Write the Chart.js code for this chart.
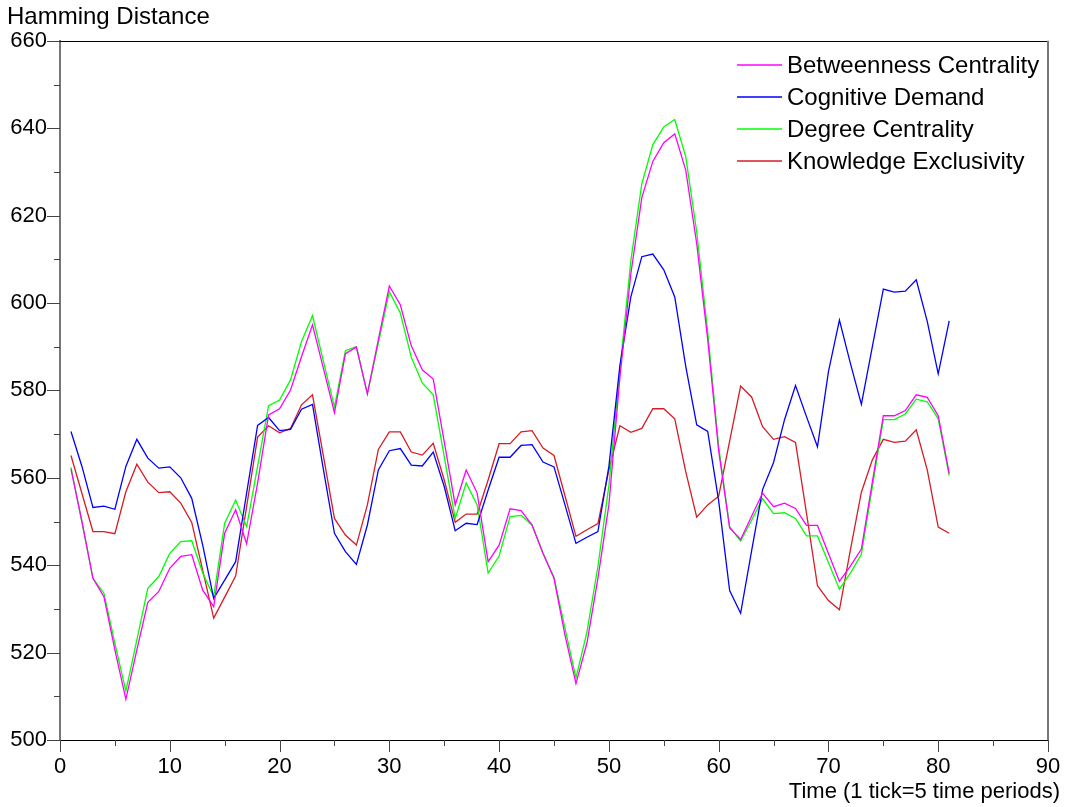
<!DOCTYPE html>
<html>
<head>
<meta charset="utf-8">
<title>Hamming Distance</title>
<script src="https://cdn.jsdelivr.net/npm/chart.js@4.4.1/dist/chart.umd.min.js"></script>
<style>
  html, body { margin: 0; padding: 0; background: #fff; }
  #wrap { width: 1066px; height: 807px; }
</style>
</head>
<body>
<div id="wrap"><canvas id="hamming-chart" width="1066" height="807"></canvas></div>
<script>
// time index (1 tick = 5 time periods)
const periods = [
  1, 2, 3, 4, 5, 6, 7, 8, 9, 10, 11, 12, 13, 14, 15, 16, 17, 18, 19, 20,
  21, 22, 23, 24, 25, 26, 27, 28, 29, 30, 31, 32, 33, 34, 35, 36, 37, 38, 39, 40,
  41, 42, 43, 44, 45, 46, 47, 48, 49, 50, 51, 52, 53, 54, 55, 56, 57, 58, 59, 60,
  61, 62, 63, 64, 65, 66, 67, 68, 69, 70, 71, 72, 73, 74, 75, 76, 77, 78, 79, 80, 81
];

const seriesNames = ['Betweenness Centrality', 'Cognitive Demand', 'Degree Centrality', 'Knowledge Exclusivity'];
const seriesColors = ['#ff00ff', '#0000ff', '#00ff00', 'rgb(214,28,36)'];

const betweenness = [
  562.0, 550.0, 537.0, 532.8, 520.6, 509.3, 520.6, 531.5, 534.0, 539.3,
  542.0, 542.4, 534.3, 530.5, 547.3, 552.7, 544.9, 558.8, 574.4, 575.8,
  580.1, 587.7, 595.0, 585.0, 574.9, 588.4, 589.9, 579.2, 591.6, 603.9,
  599.6, 590.2, 584.7, 582.6, 568.3, 553.8, 561.8, 556.5, 540.8, 544.6,
  552.9, 552.5, 549.2, 542.7, 537.0, 524.0, 512.9, 522.2, 537.0, 553.8,
  582.9, 606.7, 624.1, 632.4, 636.7, 638.7, 630.4, 613.6, 591.7, 566.2,
  548.5, 545.9, 551.2, 556.5, 553.4, 554.2, 553.0, 549.1, 549.1, 542.7,
  536.3, 539.8, 543.7, 559.1, 574.2, 574.2, 575.4, 579.0, 578.4, 574.2, 561.0
];

const cognitive = [
  570.6, 562.6, 553.2, 553.5, 552.8, 562.6, 568.8, 564.5, 562.2, 562.5,
  560.0, 555.3, 544.6, 532.4, 536.6, 540.8, 556.5, 572.0, 573.8, 570.8,
  571.1, 575.7, 576.8, 561.8, 547.3, 543.1, 540.2, 549.2, 561.8, 566.2,
  566.7, 562.9, 562.7, 565.9, 558.0, 547.9, 549.6, 549.3, 557.2, 564.7,
  564.7, 567.4, 567.6, 563.6, 562.5, 553.8, 545.0, 546.4, 547.7, 562.6,
  585.6, 601.4, 610.6, 611.2, 607.6, 601.4, 585.5, 572.1, 570.6, 554.7,
  534.2, 529.0, 543.3, 557.3, 563.5, 573.3, 581.1, 574.0, 567.1, 584.3,
  596.1, 586.2, 576.8, 590.0, 603.2, 602.5, 602.7, 605.3, 595.8, 583.8, 595.9
];

const degree = [
  562.4, 549.8, 537.0, 533.6, 522.1, 511.2, 522.9, 534.7, 537.4, 542.7,
  545.4, 545.6, 538.2, 532.8, 549.6, 554.9, 548.8, 562.6, 576.5, 577.8,
  582.4, 591.2, 597.1, 586.6, 576.2, 589.1, 590.0, 579.2, 590.8, 602.6,
  597.7, 587.6, 581.7, 579.0, 564.9, 550.7, 558.8, 553.8, 538.2, 542.1,
  551.1, 551.4, 549.2, 542.8, 537.2, 525.6, 514.2, 524.7, 539.7, 558.2,
  584.7, 609.7, 627.3, 636.2, 640.3, 642.0, 633.5, 616.3, 593.4, 567.1,
  548.8, 545.5, 550.3, 555.2, 551.8, 552.0, 550.7, 546.7, 546.7, 540.6,
  534.5, 538.2, 542.5, 558.0, 573.3, 573.3, 574.6, 578.0, 577.4, 573.5, 560.5
];

const exclusivity = [
  565.1, 556.4, 547.7, 547.7, 547.2, 556.8, 563.1, 559.0, 556.6, 556.8,
  554.2, 549.8, 538.8, 527.9, 532.7, 537.5, 553.4, 569.3, 571.9, 570.3,
  571.3, 576.7, 579.0, 564.9, 550.7, 546.9, 544.6, 553.8, 566.5, 570.5,
  570.5, 565.9, 565.2, 567.9, 559.5, 549.8, 551.7, 551.7, 559.5, 567.8,
  567.8, 570.5, 570.8, 566.8, 565.1, 555.9, 546.6, 548.1, 549.5, 561.8,
  571.9, 570.4, 571.3, 575.8, 575.8, 573.5, 561.4, 551.0, 553.8, 555.8,
  568.4, 581.0, 578.5, 571.7, 568.8, 569.4, 568.1, 551.9, 535.3, 531.9,
  529.8, 543.5, 556.7, 564.1, 568.8, 568.1, 568.4, 571.0, 561.8, 548.7, 547.3
];

const xTicks = { min: 0, max: 90, major: 10, minor: 5 };
const yTicks = { min: 500, max: 660, major: 20, minor: 10 };

const FONT = '"Liberation Sans", Arial, Helvetica, sans-serif';
Chart.defaults.font.family = FONT;
Chart.defaults.color = '#000';

const allSeries = [betweenness, cognitive, degree, exclusivity];

const datasets = allSeries.map((vals, k) => ({
  label: seriesNames[k],
  data: periods.map((t, i) => ({ x: t, y: vals[i] })),
  borderColor: seriesColors[k],
  backgroundColor: seriesColors[k],
  borderWidth: 1.3,
  pointRadius: 0,
  tension: 0,
  fill: false
}));

// frame, long/short tick marks, x title and the inset legend
const decorations = {
  id: 'decorations',
  afterDraw(chart) {
    const { ctx, chartArea: a, scales: { x, y } } = chart;
    ctx.save();
    ctx.lineWidth = 1;

    // top and right edges of the box
    ctx.strokeStyle = '#000';
    ctx.beginPath();
    ctx.moveTo(a.left, Math.round(a.top) + 0.5);
    ctx.lineTo(a.right, Math.round(a.top) + 0.5);
    ctx.stroke();
    ctx.strokeStyle = '#777';
    ctx.lineWidth = 2;
    ctx.beginPath();
    ctx.moveTo(Math.round(a.right), a.top);
    ctx.lineTo(Math.round(a.right), a.bottom);
    ctx.stroke();

    ctx.lineWidth = 1;
    ctx.strokeStyle = '#444';
    x.ticks.forEach(t => {
      const px = Math.round(x.getPixelForValue(t.value)) + 0.5;
      const len = t.value % xTicks.major === 0 ? 12 : 6;
      ctx.beginPath();
      ctx.moveTo(px, a.bottom);
      ctx.lineTo(px, a.bottom + len);
      ctx.stroke();
    });
    y.ticks.forEach(t => {
      const py = Math.round(y.getPixelForValue(t.value)) + 0.5;
      const len = t.value % yTicks.major === 0 ? 13 : 6;
      ctx.beginPath();
      ctx.moveTo(a.left, py);
      ctx.lineTo(a.left - len, py);
      ctx.stroke();
    });

    // x axis title, right aligned past the plot edge
    ctx.fillStyle = '#000';
    ctx.font = '22px ' + FONT;
    ctx.textAlign = 'right';
    ctx.textBaseline = 'alphabetic';
    ctx.fillText('Time (1 tick=5 time periods)', a.right + 12, 798);

    // legend in the upper right corner
    ctx.font = '24px ' + FONT;
    ctx.textAlign = 'left';
    ctx.textBaseline = 'middle';
    chart.data.datasets.forEach((ds, k) => {
      const ly = 65 + k * 32;
      ctx.strokeStyle = ds.borderColor;
      ctx.lineWidth = 1.3;
      ctx.beginPath();
      ctx.moveTo(737, ly);
      ctx.lineTo(782, ly);
      ctx.stroke();
      ctx.fillStyle = '#000';
      ctx.fillText(ds.label, 787, ly + 1);
    });
    ctx.restore();
  }
};

new Chart(document.getElementById('hamming-chart'), {
  type: 'line',
  data: { datasets },
  plugins: [decorations],
  options: {
    responsive: false,
    devicePixelRatio: 1,
    animation: false,
    layout: { padding: { left: 7, right: 18, top: 0, bottom: 0 } },
    plugins: {
      legend: { display: false },
      tooltip: { enabled: false },
      title: {
        display: true,
        text: 'Hamming Distance',
        align: 'start',
        color: '#000',
        font: { size: 24, weight: 'normal', family: FONT },
        padding: { top: 3, bottom: 9 }
      }
    },
    scales: {
      x: {
        type: 'linear',
        min: xTicks.min,
        max: xTicks.max,
        afterFit(scale) {
          scale.height = 67;
          scale.paddingLeft = 0;
          scale.paddingRight = 0;
        },
        grid: { display: false, drawTicks: false },
        border: { display: true, color: '#000', width: 1 },
        ticks: {
          stepSize: xTicks.minor,
          autoSkip: false,
          maxRotation: 0,
          padding: 14,
          color: '#000',
          font: { size: 22 },
          callback: v => (v % xTicks.major === 0 ? String(v) : '')
        }
      },
      y: {
        min: yTicks.min,
        max: yTicks.max,
        afterFit(scale) {
          scale.width = 53;
          scale.paddingTop = 0;
          scale.paddingBottom = 0;
        },
        grid: { display: false, drawTicks: false },
        border: { display: true, color: '#777', width: 2 },
        ticks: {
          stepSize: yTicks.minor,
          autoSkip: false,
          padding: 13,
          color: '#000',
          font: { size: 22 },
          callback: v => (v % yTicks.major === 0 ? String(v) : '')
        }
      }
    }
  }
});
</script>
</body>
</html>
